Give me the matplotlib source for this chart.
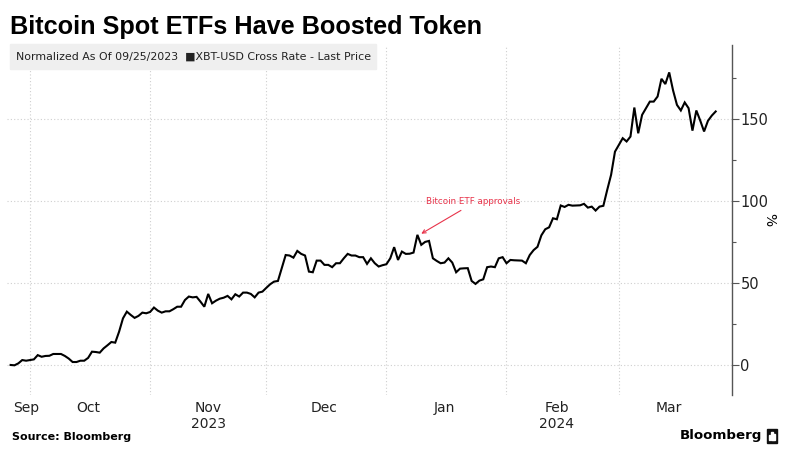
import numpy as np
import pandas as pd
import matplotlib
matplotlib.use("Agg")
import matplotlib.pyplot as plt
import matplotlib.dates as mdates
from matplotlib.patches import Rectangle

# daily XBT-USD, % change vs 2023-09-25 close
start_date = "2023-09-25"
pct = [
    0, -0.2, 1, 3, 2.6, 3, 3.4, 6, 5, 5.5, 5.6, 6.7, 6.7, 6.7, 5.5, 3.9,
    1.8, 1.8, 2.6, 2.6, 4.3, 8.1, 7.9, 7.5, 10.1, 12, 14, 13.6, 20.3, 28.4,
    32.5, 30.5, 28.7, 29.9, 31.9, 31.5, 32.3, 35, 33.1, 31.9, 32.7, 32.7, 34,
    35.5, 35.5, 39.6, 41.7, 41.2, 41.5, 38.6, 35.5, 43.3, 37.6, 39.2, 40.4,
    41, 42.1, 40, 43.1, 41.7, 44.1, 44.1, 43.3, 41.2, 44.1, 44.7, 47, 49.2,
    50.8, 51.2, 59, 67, 66.7, 65.4, 69.5, 67.7, 66.7, 56.9, 56.5, 63.6, 63.6,
    61, 61, 59.6, 62, 62, 65, 67.7, 66.7, 66.7, 65.7, 65.7, 61.6, 65, 62, 60,
    60.8, 61.4, 65, 71.8, 64, 69.1, 67.7, 67.8, 68.5, 79.3, 73.2, 75, 75.6,
    65, 63.4, 62, 62.4, 65, 62.4, 56.5, 58.7, 58.9, 59, 51.2, 49.4, 51.4,
    52.2, 59.6, 60, 59.6, 65, 65.7, 62, 64, 63.8, 63.7, 63.6, 62, 67, 70, 72,
    79, 82.7, 83.9, 89.4, 88.8, 97.2, 96.3, 97.6, 97.1, 97.2, 97.3, 98.2,
    95.9, 96.5, 94.1, 96.5, 97, 106.7, 115.9, 130, 134.1, 138.2, 136.2,
    139.2, 156.9, 141.2, 152.4, 156.5, 160.5, 160.5, 163.6, 174.4, 171.2,
    178.3, 167.3, 158.5, 155.1, 160, 156.5, 142.8, 155.1, 149, 142.3, 148.8,
    152, 154.5,
]

month_labels = ["Sep", "Oct", "Nov\n2023", "Dec", "Jan", "Feb\n2024", "Mar"]
label_dates = ["2023-09-30", "2023-10-16", "2023-11-16", "2023-12-16",
               "2024-01-16", "2024-02-14", "2024-03-14"]
grid_dates = ["2023-10-01", "2023-11-01", "2023-12-01", "2024-01-01",
              "2024-02-01", "2024-03-01"]
y_major = [0, 50, 100, 150]
y_minor = [25, 75, 125, 175]

event_date = "2024-01-08"
event_text = "Bitcoin ETF approvals"

# closes are stamped at the end of the day
dates = pd.date_range(start_date, periods=len(pct), freq="D") + pd.Timedelta(days=1)

fig = plt.figure(figsize=(8.11, 4.63), dpi=100)
ax = fig.add_axes([6.75 / 811, 68 / 463, (732 - 6.75) / 811, 350 / 463])

ax.plot(dates, pct, color="black", lw=1.5, solid_joinstyle="miter")

ax.set_xlim(pd.Timestamp("2023-09-25"), pd.Timestamp("2024-03-30 05:00"))
ax.set_ylim(-18.3, 195)

# grid
ax.set_xticks(pd.to_datetime(grid_dates))
ax.set_xticks(pd.to_datetime(label_dates), minor=True)
ax.set_xticklabels([], minor=False)
ax.set_xticklabels(month_labels, minor=True, fontsize=10)
ax.tick_params(axis="x", which="both", length=0, pad=4, colors="#222222")
ax.grid(axis="x", which="major", color="#cfcfcf", lw=0.8, ls=(0, (1, 2)))

ax.yaxis.tick_right()
ax.yaxis.set_label_position("right")
ax.set_yticks(y_major)
ax.set_yticks(y_minor, minor=True)
ax.set_yticklabels([str(v) for v in y_major], fontsize=10.5)
ax.tick_params(axis="y", which="major", length=5, width=0.8, color="#555555",
               pad=1, labelcolor="#222222")
ax.tick_params(axis="y", which="minor", length=3, width=0.8, color="#555555")
ax.grid(axis="y", which="major", color="#cfcfcf", lw=0.8, ls=(0, (1, 2)))
ax.set_ylabel("%", rotation=270, labelpad=6, fontsize=10)

for s in ["top", "left", "bottom"]:
    ax.spines[s].set_visible(False)
ax.spines["right"].set_color("#555555")
ax.spines["right"].set_linewidth(1)

# annotation
ev = pd.Timestamp(event_date) + pd.Timedelta(days=2)
ax.annotate(event_text, xy=(ev, 80), xytext=(ev + pd.Timedelta(days=13.3), 99.5),
            color="#e8334a", fontsize=6.3, ha="center", va="center",
            arrowprops=dict(arrowstyle="->", color="#e8334a", lw=0.8,
                            relpos=(0.45, 0), shrinkA=2, shrinkB=0))

# header
fig.text(10 / 811, 1 - 27 / 463, "Bitcoin Spot ETFs Have Boosted Token",
         fontsize=18.2, fontweight="bold", family="Liberation Sans",
         va="center", ha="left")
fig.patches.append(Rectangle((10 / 811, 1 - 69 / 463), 366 / 811, 25 / 463,
                             transform=fig.transFigure, color="#efefef",
                             zorder=0))
fig.text(16 / 811, 1 - 56.5 / 463,
         "Normalized As Of 09/25/2023  \u25A0XBT-USD Cross Rate - Last Price",
         fontsize=7.9, va="center", ha="left", color="#222222")

# footer
fig.text(12 / 811, 1 - 437 / 463, "Source: Bloomberg", fontsize=8,
         fontweight="bold", va="center", ha="left")
fig.text(762 / 811, 1 - 436 / 463, "Bloomberg", fontsize=9.6,
         fontweight="bold", va="center", ha="right")
fig.patches.append(Rectangle((767 / 811, 1 - 443 / 463), 10 / 811, 14 / 463,
                             transform=fig.transFigure, color="#111111"))
for i, h in enumerate([5, 8, 6]):
    fig.patches.append(Rectangle(((769 + i * 2.2) / 811, 1 - 440 / 463),
                                 1.3 / 811, h / 463,
                                 transform=fig.transFigure, color="white"))

fig.savefig("out.png", dpi=100)
